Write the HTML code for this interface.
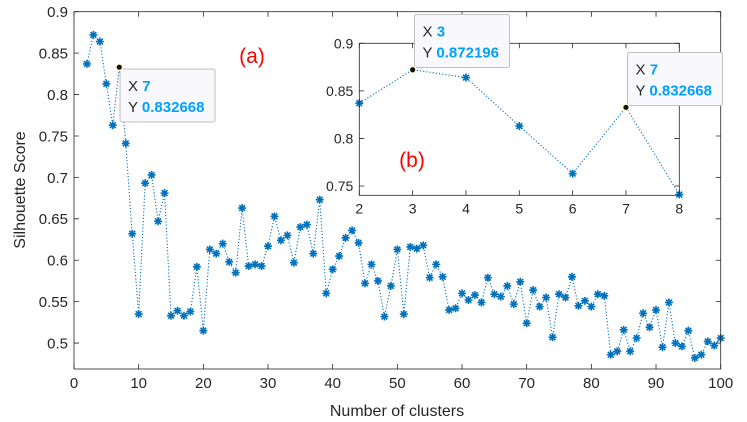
<!DOCTYPE html>
<html><head><meta charset="utf-8"><style>
html,body{margin:0;padding:0;background:#fff;}
svg{display:block;font-family:"Liberation Sans",sans-serif;}
</style></head><body>
<svg id="chart" width="747" height="422" viewBox="0 0 747 422" xmlns="http://www.w3.org/2000/svg">
<g id="main"></g>
<g id="inset"></g>
</svg>
<script>
const clusters = [];
for (let k = 2; k <= 100; k++) clusters.push(k);
const scores = [.837,.872,.864,.813,.763,.833,.741,.632,.535,.693,.703,.647,.681,.533,.539,.533,.538,.592,.515,.613,.608,.620,.598,.585,.663,.593,.595,.593,.617,.653,.624,.630,.597,.640,.643,.608,.673,.560,.589,.605,.627,.636,.621,.572,.595,.575,.532,.569,.613,.535,.616,.614,.618,.579,.595,.580,.540,.542,.560,.552,.558,.549,.579,.559,.556,.569,.547,.574,.524,.564,.544,.555,.507,.559,.555,.580,.545,.551,.544,.559,.557,.486,.490,.516,.490,.506,.536,.519,.540,.495,.549,.500,.496,.515,.482,.486,.502,.497,.506];
const xTicks = [0,10,20,30,40,50,60,70,80,90,100];
const yTicks = [0.5,0.55,0.6,0.65,0.7,0.75,0.8,0.85,0.9];
const yTickLabels = ["0.5","0.55","0.6","0.65","0.7","0.75","0.8","0.85","0.9"];
const insetX = [2,3,4,5,6,7,8];
const insetY = [0.837,0.872196,0.864,0.813,0.763,0.832668,0.741];
const insetXTicks = [2,3,4,5,6,7,8];
const insetYTicks = [0.75,0.8,0.85,0.9];
const insetYTickLabels = ["0.75","0.8","0.85","0.9"];

const NS = "http://www.w3.org/2000/svg";
function mk(parent, tag, attrs, text){
  const e = document.createElementNS(NS, tag);
  for (const k in attrs) e.setAttribute(k, attrs[k]);
  if (text !== undefined) e.textContent = text;
  parent.appendChild(e);
  return e;
}
const BLUE = "#0072BD";
function star(g, cx, cy, r){
  const s = mk(g,'path',{d:`M${cx-r},${cy}H${cx+r}M${cx},${cy-r}V${cy+r}M${cx-r*0.72},${cy-r*0.72}L${cx+r*0.72},${cy+r*0.72}M${cx-r*0.72},${cy+r*0.72}L${cx+r*0.72},${cy-r*0.72}`,stroke:BLUE,'stroke-width':1.6,fill:'none'});
  return s;
}
function plot(g, o){
  const sx = v => o.L + (v - o.x0) / (o.x1 - o.x0) * (o.R - o.L);
  const sy = v => o.B - (v - o.y0) / (o.y1 - o.y0) * (o.B - o.T);
  const bg = mk(g,'rect',{x:o.L,y:o.T,width:o.R-o.L,height:o.B-o.T,fill:'#fff'});
  
  
  // line
  const pts = o.xs.map((x,i)=>sx(x).toFixed(2)+','+sy(o.ys[i]).toFixed(2)).join(' ');
  const line = mk(g,'polyline',{points:pts,fill:'none',stroke:BLUE,'stroke-width':1.1,'stroke-dasharray':'1.2 2'});
  
  
  o.xs.forEach((x,i)=>{
    if (o.tips && o.tips.includes(x)) return;
    const m = star(g, sx(x), sy(o.ys[i]), 4);
    
    
  });
  // axes box
  const box = mk(g,'rect',{x:o.L,y:o.T,width:o.R-o.L,height:o.B-o.T,fill:'none',stroke:'#262626','stroke-width':0.8});
  
  
  o.xt.forEach(t=>{
    const x = sx(t);
    mk(g,'path',{d:`M${x},${o.B}v-5M${x},${o.T}v5`,stroke:'#262626','stroke-width':0.8});
    const lab = mk(g,'text',{x:x,y:o.B+o.fs+4,'text-anchor':'middle','font-size':o.fs,fill:'#262626'},String(t));
    
    
  });
  o.yt.forEach((t,i)=>{
    const y = sy(t);
    mk(g,'path',{d:`M${o.L},${y}h5M${o.R},${y}h-5`,stroke:'#262626','stroke-width':0.8});
    const lab = mk(g,'text',{x:o.L-6,y:y+o.fs*0.36,'text-anchor':'end','font-size':o.fs,fill:'#262626'},o.ytl[i]);
    
    
  });
  return {sx, sy};
}
function datatip(g, px, py, bx, by, xv, yv, name){
  const grp = mk(g,'g',{});
  
  
  mk(grp,'rect',{x:bx,y:by,width:95,height:53,rx:2,fill:'#f9f9fd',stroke:'#c0c0c0','stroke-width':1});
  const t1 = mk(grp,'text',{x:bx+8,y:by+22,'font-size':15,fill:'#262626'});
  t1.innerHTML = 'X <tspan fill="#00a0ff" font-weight="bold">'+xv+'</tspan>';
  const t2 = mk(grp,'text',{x:bx+8,y:by+43,'font-size':15,fill:'#262626'});
  t2.innerHTML = 'Y <tspan fill="#00a0ff" font-weight="bold">'+yv+'</tspan>';
  mk(grp,'circle',{cx:px,cy:py,r:3.2,fill:'#111',stroke:'#ffffcc','stroke-width':1.2});
}
const main = document.getElementById('main');
const M = plot(main,{prefix:'main',L:74,R:720.7,T:11.7,B:369,x0:0,x1:100,y0:0.4687,y1:0.9,xs:clusters,ys:scores,xt:xTicks,yt:yTicks,ytl:yTickLabels,fs:15,tips:[7]});
const xl = mk(main,'text',{x:397,y:416,'text-anchor':'middle','font-size':16,fill:'#262626'},'Number of clusters');


const yl = mk(main,'text',{x:0,y:0,'text-anchor':'middle','font-size':16,fill:'#262626',transform:'translate(25,190) rotate(-90)'},'Silhouette Score');


const la = mk(main,'text',{x:252,y:63,'text-anchor':'middle','font-size':21,fill:'#ff0000'},'(a)');


const i7 = clusters.indexOf(7);
datatip(main, M.sx(7), M.sy(scores[i7]), 120, 69, '7', '0.832668', 'main-datatip-7');

const inset = document.getElementById('inset');
const I = plot(inset,{prefix:'inset',L:359.3,R:679.3,T:43.3,B:195.3,x0:2,x1:8,y0:0.7402,y1:0.9,xs:insetX,ys:insetY,xt:insetXTicks,yt:insetYTicks,ytl:insetYTickLabels,fs:14,tips:[3,7]});
const lb = mk(inset,'text',{x:412,y:167,'text-anchor':'middle','font-size':21,fill:'#ff0000'},'(b)');


datatip(inset, I.sx(3), I.sy(insetY[1]), 414.5, 14.5, '3', '0.872196', 'inset-datatip-3');
datatip(inset, I.sx(7), I.sy(insetY[5]), 627.5, 52.5, '7', '0.832668', 'inset-datatip-7');
</script>
</body></html>
